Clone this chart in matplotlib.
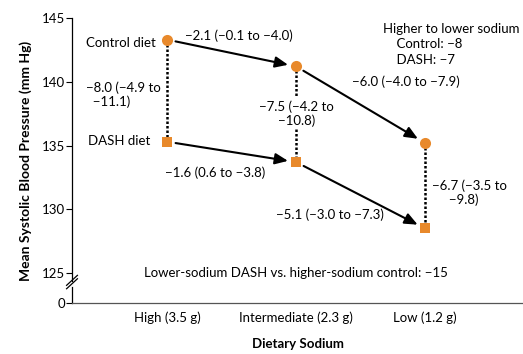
import matplotlib
matplotlib.use("Agg")
import matplotlib.pyplot as plt
from matplotlib.lines import Line2D

levels = ["High (3.5 g)", "Intermediate (2.3 g)", "Low (1.2 g)"]
control = [143.3, 141.2, 135.2]
dash = [135.3, 133.7, 128.5]
step_control = ["\u22122.1 (\u22120.1 to \u22124.0)", "\u22126.0 (\u22124.0 to \u22127.9)"]
step_dash = ["\u22121.6 (0.6 to \u22123.8)", "\u22125.1 (\u22123.0 to \u22127.3)"]
diff_labels = ["\u22128.0 (\u22124.9 to\n  \u221211.1)", "\u22127.5 (\u22124.2 to\n\u221210.8)", "\u22126.7 (\u22123.5 to\n     \u22129.8)"]
ytick_vals = [125, 130, 135, 140, 145]
axis_zero = 122.66

plt.rcParams['font.family'] = ['Lato', 'DejaVu Sans']
FS = 9.5
orange = "#E8892B"

fig = plt.figure(figsize=(5.23, 3.54), dpi=100)
ax = fig.add_axes([72/523, 51/354, 451/523, 285/354])
ax.set_xlim(-0.74, 2.76)
ax.set_ylim(axis_zero, 145)
ax.set_xticks(range(3))
ax.set_xticklabels(levels, fontsize=FS)
ax.tick_params(axis='x', length=0, pad=6)
ax.set_yticks([axis_zero] + ytick_vals)
ax.set_yticklabels(["0"] + [str(v) for v in ytick_vals], fontsize=FS)
ax.tick_params(axis='y', length=4, width=0.8, pad=1)
for s in ['top', 'right']:
    ax.spines[s].set_visible(False)
ax.spines['left'].set_linewidth(0.9)
ax.spines['bottom'].set_color('#555555')
ax.spines['bottom'].set_linewidth(0.9)

ax.set_xlabel("Dietary Sodium", fontsize=FS, fontweight='bold', labelpad=10)
ax.set_ylabel("Mean Systolic Blood Pressure (mm Hg)", fontsize=10, fontweight='bold', labelpad=7)

x = list(range(3))
# vertical dotted differences
for i in x:
    ax.plot([i, i], [control[i], dash[i]], color='black', lw=1.8,
            linestyle=(0, (1, 0.8)), zorder=2)

# arrows
for series in (control, dash):
    for i in range(2):
        ax.annotate("", xy=(x[i+1], series[i+1]), xytext=(x[i], series[i]),
                    arrowprops=dict(arrowstyle='-|>,head_length=0.7,head_width=0.3',
                                    color='black', lw=1.5,
                                    mutation_scale=11, shrinkA=6, shrinkB=6),
                    zorder=3)

ax.plot(x, control, linestyle='none', marker='o', markersize=8, color=orange,
        markeredgewidth=0, zorder=4)
ax.plot(x, dash, linestyle='none', marker='s', markersize=7.5, color=orange,
        markeredgewidth=0, zorder=4)

# labels
ax.text(-0.09, control[0] - 0.25, "Control diet", ha='right', va='center', fontsize=FS)
ax.text(-0.13, dash[0] + 0.05, "DASH diet", ha='right', va='center', fontsize=FS)
ax.text(0.14, 143.6, step_control[0], ha='left', va='center', fontsize=FS)
ax.text(1.43, 140.0, step_control[1], ha='left', va='center', fontsize=FS)
ax.text(-0.02, 132.85, step_dash[0], ha='left', va='center', fontsize=FS)
ax.text(0.84, 129.6, step_dash[1], ha='left', va='center', fontsize=FS)
ax.text(-0.63, 139.0, diff_labels[0], ha='left', va='center', fontsize=FS, linespacing=1.15)
ax.text(1.0, 137.5, diff_labels[1], ha='center', va='center', fontsize=FS, linespacing=1.15,
        bbox=dict(facecolor='white', edgecolor='none', pad=1.5), zorder=5)
ax.text(2.05, 131.3, diff_labels[2], ha='left', va='center', fontsize=FS, linespacing=1.15)
ax.text(1.67, 142.95, "Higher to lower sodium\n    Control: \u22128\n    DASH: \u22127",
        ha='left', va='center', fontsize=FS, linespacing=1.35)
ax.text(1.0, 125.0, "Lower-sodium DASH vs. higher-sodium control: \u221215",
        ha='center', va='center', fontsize=FS)

# axis break marks
for dy in (0.0, 0.012):
    ax.add_line(Line2D([-0.012, 0.012], [0.05 + dy, 0.085 + dy], transform=ax.transAxes,
                       color='black', lw=0.9, clip_on=False, zorder=6))
ax.add_line(Line2D([0, 0], [0.064, 0.071], transform=ax.transAxes, color='white',
                   lw=2, clip_on=False, zorder=5))

fig.savefig("out.png", dpi=100)
